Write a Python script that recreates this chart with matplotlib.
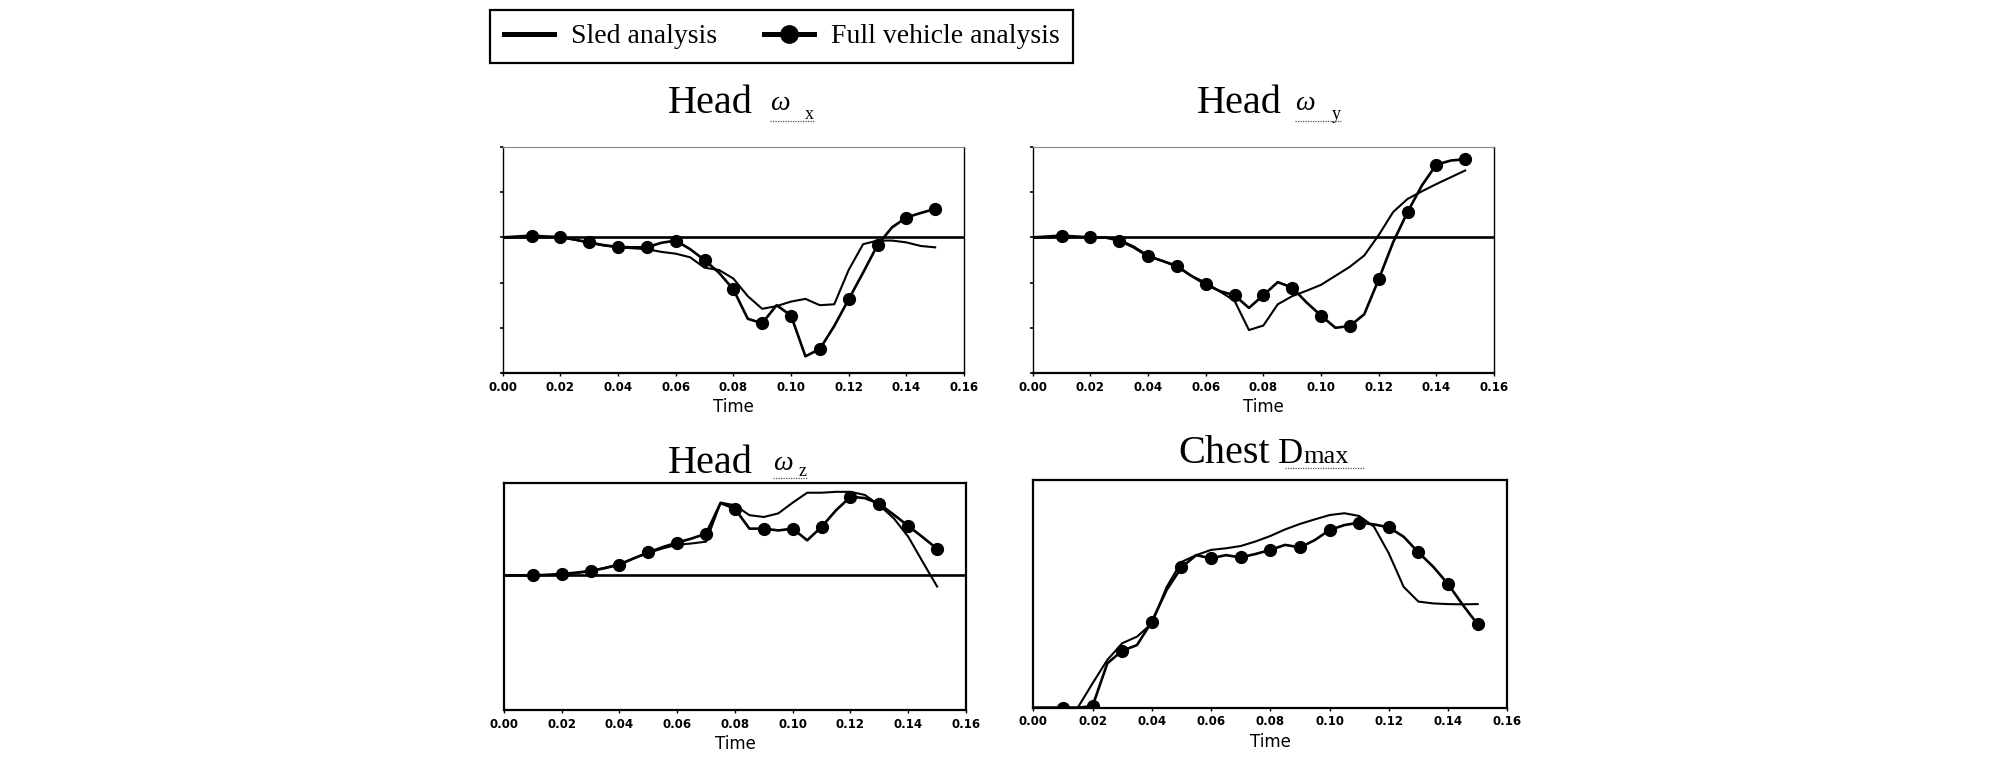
import matplotlib
matplotlib.use("Agg")
import matplotlib.pyplot as plt
from matplotlib.lines import Line2D
from matplotlib.font_manager import FontProperties

# ---------------- data ----------------
TIME = [0.000, 0.005, 0.010, 0.015, 0.020, 0.025, 0.030, 0.035, 0.040, 0.045,
        0.050, 0.055, 0.060, 0.065, 0.070, 0.075, 0.080, 0.085, 0.090, 0.095,
        0.100, 0.105, 0.110, 0.115, 0.120, 0.125, 0.130, 0.135, 0.140, 0.145,
        0.150]
XTICKS = [0.00, 0.02, 0.04, 0.06, 0.08, 0.10, 0.12, 0.14, 0.16]
XTICK_LABELS = ["0.00", "0.02", "0.04", "0.06", "0.08", "0.10", "0.12", "0.14", "0.16"]
LEGEND_LABELS = ["Sled analysis", "Full vehicle analysis"]

# Head omega_x
wx_sled = [0, 0, 0, 0, 0, -0.05, -0.12, -0.18, -0.22, -0.24,
           -0.26, -0.32, -0.36, -0.44, -0.67, -0.72, -0.91, -1.30, -1.58, -1.52,
           -1.42, -1.36, -1.50, -1.48, -0.72, -0.15, -0.07, -0.07, -0.11, -0.19,
           -0.22]
wx_full = [0.0, 0.02, 0.04, 0.02, 0.01, -0.05, -0.11, -0.17, -0.21, -0.22,
           -0.22, -0.12, -0.07, -0.26, -0.50, -0.78, -1.15, -1.80, -1.90, -1.50,
           -1.73, -2.63, -2.47, -1.96, -1.37, -0.78, -0.17, 0.22, 0.44, 0.54,
           0.63]
# Head omega_y
wy_sled = [0, 0, 0, 0, 0, 0, -0.05, -0.20, -0.40, -0.52,
           -0.65, -0.85, -1.00, -1.20, -1.40, -2.05, -1.95, -1.48, -1.30, -1.18,
           -1.05, -0.85, -0.65, -0.40, 0.05, 0.56, 0.85, 1.02, 1.18, 1.33,
           1.48]
wy_full = [0, 0.02, 0.04, 0.02, 0.0, 0.0, -0.07, -0.22, -0.42, -0.52,
           -0.63, -0.85, -1.04, -1.19, -1.28, -1.56, -1.28, -0.99, -1.11, -1.44,
           -1.73, -2.00, -1.96, -1.70, -0.93, -0.11, 0.56, 1.15, 1.61, 1.70,
           1.73]
# Head omega_z
wz_sled = [0, 0, 0, 0.01, 0.02, 0.05, 0.09, 0.17, 0.25, 0.38,
           0.50, 0.60, 0.68, 0.71, 0.75, 1.62, 1.56, 1.34, 1.30, 1.38,
           1.62, 1.84, 1.84, 1.86, 1.86, 1.79, 1.56, 1.27, 0.86, 0.30,
           -0.25]
wz_full = [0, 0, 0, 0.01, 0.03, 0.06, 0.10, 0.16, 0.24, 0.38,
           0.51, 0.63, 0.73, 0.82, 0.93, 1.61, 1.48, 1.04, 1.04, 1.00,
           1.04, 0.78, 1.08, 1.45, 1.75, 1.72, 1.59, 1.35, 1.10, 0.85,
           0.59]
# Chest Dmax
d_sled = [0, 0, 0, 0, 10.7, 21.0, 28.3, 31.2, 37.0, 53.0,
          64.0, 67.0, 69.3, 70.0, 71.0, 73.0, 75.4, 78.3, 80.7, 82.7,
          84.6, 85.4, 84.2, 79.5, 67.8, 53.1, 46.6, 45.8, 45.5, 45.4,
          45.5]
d_full = [0, 0, 0, 0, 0.7, 19.5, 25.0, 27.5, 37.8, 51.7,
          61.6, 67.0, 65.6, 67.0, 66.0, 67.5, 69.3, 71.5, 70.4, 73.6,
          78.0, 80.2, 81.3, 80.5, 79.2, 75.1, 68.2, 61.9, 54.3, 45.1,
          36.6]

MARK_IDX = list(range(2, len(TIME), 2))

# ---------------- figure ----------------
W, H = 2008, 760
fig = plt.figure(figsize=(W / 100, H / 100), dpi=100)
fig.patch.set_facecolor("white")


def px_rect(l, t, r, b):
    return [l / W, 1 - b / H, (r - l) / W, (b - t) / H]


def fx(x):
    return x / W


def fy(y):
    return 1 - y / H


panels = [
    dict(rect=px_rect(502.7, 147, 964, 373), sled=wx_sled, full=wx_full,
         ylim=(-3, 2), zero=True, top=True),
    dict(rect=px_rect(1032.7, 147, 1494, 373), sled=wy_sled, full=wy_full,
         ylim=(-3, 2), zero=True, top=True),
    dict(rect=px_rect(504, 483.3, 966, 710), sled=wz_sled, full=wz_full,
         ylim=(-3, 2.05), zero=True, top=False),
    dict(rect=px_rect(1033.3, 480, 1507.3, 707.7), sled=d_sled, full=d_full,
         ylim=(0, 100), zero=False, top=False),
]

axes = []
for p in panels:
    ax = fig.add_axes(p["rect"])
    if p["zero"]:
        ax.axhline(0, color="black", lw=1.9, zorder=1)
    ax.plot(TIME, p["sled"], color="black", lw=1.5, zorder=3)
    ax.plot(TIME, p["full"], color="black", lw=1.9, marker="o", ms=8.5,
            markevery=MARK_IDX, zorder=4)
    ax.set_xlim(0, 0.16)
    ax.set_ylim(*p["ylim"])
    ax.set_xticks(XTICKS)
    ax.set_xticklabels(XTICK_LABELS, fontsize=8.5, fontweight="bold")
    ax.tick_params(axis="x", direction="out", length=2.5, width=1, pad=3)
    ax.set_xlabel("Time", fontsize=12, labelpad=3)
    if p["top"]:
        ax.set_yticks([-3, -2, -1, 0, 1, 2])
        ax.set_yticklabels([])
        ax.tick_params(axis="y", direction="out", length=2.5, width=1.2)
        ax.spines["top"].set_color("#888888")
        ax.spines["top"].set_linewidth(0.8)
        ax.spines["left"].set_linewidth(1.0)
        ax.spines["right"].set_linewidth(1.0)
        ax.spines["bottom"].set_linewidth(1.6)
    else:
        ax.set_yticks([])
        for s in ax.spines.values():
            s.set_linewidth(1.6)
    axes.append(ax)

# ---------------- titles ----------------
SERIF = "Liberation Serif"


def head_title(x_head_right, base, x_om, x_sub, sub, sub_base):
    fig.text(fx(x_head_right), fy(base), "Head", family=SERIF, fontsize=29,
             ha="right", va="baseline")
    fig.text(fx(x_om), fy(base - 3), "\u03c9", family=SERIF, fontsize=20,
             style="italic", ha="left", va="baseline")
    fig.text(fx(x_sub), fy(sub_base), sub, family=SERIF, fontsize=13,
             ha="left", va="baseline")
    fig.add_artist(Line2D([fx(x_om), fx(x_sub + 9)], [fy(sub_base + 2), fy(sub_base + 2)],
                          color="#555555", lw=0.9, ls=(0, (1, 1))))


head_title(753, 113, 770, 805, "x", 119)
head_title(1282, 113, 1295, 1332, "y", 119)
head_title(753, 473, 773, 799, "z", 476)

fig.text(fx(1270), fy(463), "Chest", family=SERIF, fontsize=29,
         ha="right", va="baseline")
fig.text(fx(1303), fy(463), "D", family=SERIF, fontsize=25,
         ha="right", va="baseline")
fig.text(fx(1303), fy(463), "max", family=SERIF, fontsize=19,
         ha="left", va="baseline")
fig.add_artist(Line2D([fx(1285), fx(1364)], [fy(468), fy(468)],
                      color="#555555", lw=0.9, ls=(0, (1, 1))))

# ---------------- legend ----------------
handles = [Line2D([], [], color="black", lw=3.6),
           Line2D([], [], color="black", lw=3.6, marker="o", ms=12.5)]
leg = fig.legend(handles, LEGEND_LABELS, loc="upper left",
                 bbox_to_anchor=(fx(490), fy(10)), ncol=2, frameon=True,
                 fancybox=False, edgecolor="black", framealpha=1,
                 borderaxespad=0, handlelength=1.8, handletextpad=0.6,
                 columnspacing=1.7, borderpad=0.5,
                 prop=FontProperties(family=SERIF, size=20))
leg.get_frame().set_linewidth(1.6)

fig.savefig("out.png", dpi=100, facecolor="white")
